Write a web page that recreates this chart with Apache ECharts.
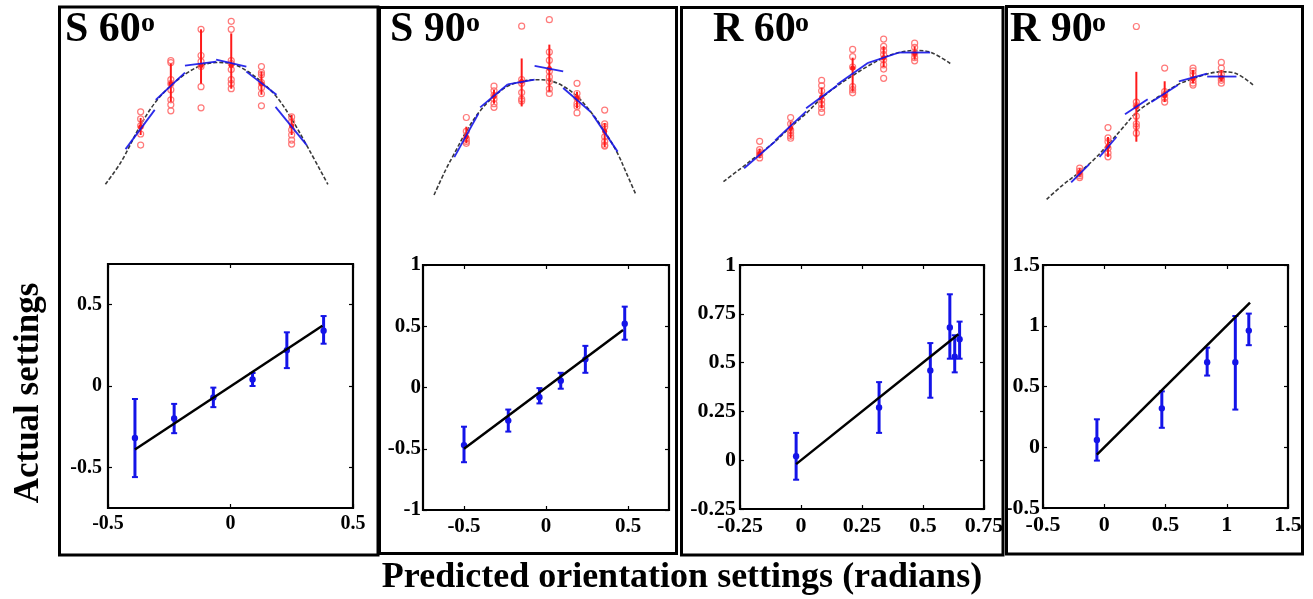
<!DOCTYPE html>
<html><head><meta charset="utf-8">
<script src="https://cdn.jsdelivr.net/npm/echarts@6/dist/echarts.min.js"></script>
<style>html,body{margin:0;padding:0;background:#fff}#c{width:1313px;height:599px}</style>
</head><body><div id="c"></div>
<script>
// ================= DATA =================
// Top row: orientation settings (deg) and responses (arbitrary units)
const settingsDeg = [-75, -45, -15, 15, 45, 75];

const s60Curve = [[-110,-1],[-94,22],[-75,58],[-60,81],[-45,97],[-30,109],[-15,117],[0,120],[15,119],[30,112],[45,101],[60,86],[75,64],[92,34],[111,-1]];
const s60Circles = [[71,64,57,49,38],[122,120,103,99,93,83,78,72],[153,127,121,116,96,75],[161,153,122,119,113,103,99,94],[116,110,108,100,95,89,77],[66,61,53,48,43,39]];
const s60BarMean = [56, 99, 117, 117, 99, 57];
const s60BarLow  = [48, 81, 99, 94, 88, 48];
const s60BarHigh = [65, 119, 153, 149, 111, 68];
const s60Tangents = [[-90,34,-61,73],[-60,83,-31,110],[-31,117,0,121],[0,123,30,116],[30,111,60,88],[59,76,90,38]];

const s90Curve = [[-110,0],[-98,26],[-88,45],[-75,69],[-61,90],[-45,107],[-30,118],[-15,123],[0,125],[15,124],[30,118],[45,107],[60,90],[75,69],[89,45],[98,25],[109,0]];
const s90Circles = [[84,69,61,58,56],[118,113,108,104,99,95],[183,125,121,111,104,102],[190,155,146,134,128,123,115,110],[121,110,105,99,96,89],[92,77,74,63,58,54,53]];
const s90BarMean = [63, 107, 123, 137, 105, 69];
const s90BarLow  = [56, 99, 96, 112, 94, 52];
const s90BarHigh = [74, 114, 148, 163, 112, 78];
const s90Tangents = [[-88,41,-62,88],[-60,95,-30,120],[-30,120,-1,125],[-1,140,30,134],[30,116,60,90],[62,87,89,47]];

const r60Curve = [[-110,0],[-93,13],[-75,27],[-60,39],[-45,53],[-30,66],[-15,81],[-1,92],[14,102],[30,112],[45,120],[60,125],[75,127],[91,125],[110,114]];
const r60Circles = [[39,31,28,26,23],[62,56,50,47,44,42],[98,93,88,79,75,71,67],[128,121,111,92,89,86],[138,131,127,123,118,113,109,100],[134,130,124,120,117]];
const r60BarMean = [27, 52, 82, 110, 120, 124];
const r60BarLow  = [23, 42, 71, 87, 111, 118];
const r60BarHigh = [32, 58, 91, 120, 131, 131];
const r60Tangents = [[-90,13,-60,39],[-60,40,-30,68],[-30,71,0,93],[0,94,30,115],[30,115,60,125],[60,125,90,125]];

const r90Curve = [[-110,0],[-93,15],[-75,29],[-60,42],[-45,58],[-30,75],[-15,92],[0,103],[15,113],[30,122],[46,128],[61,133],[75,135],[91,133],[110,120]];
const r90Circles = [[33,30,27,25,23],[76,65,61,54,49,45],[183,103,99,88,80,77,70],[139,114,111,107,103],[139,136,132,126,123,121],[145,139,132,128,126,123]];
const r90BarMean = [28, 56, 98, 110, 128, 129];
const r90BarLow  = [24, 45, 61, 103, 123, 125];
const r90BarHigh = [33, 66, 135, 125, 137, 137];
const r90Tangents = [[-84,18,-65,37],[-54,45,-36,66],[-27,90,-3,106],[1,103,29,121],[30,125,60,133],[60,130,91,130]];

// Bottom row: predicted vs actual settings (radians)
const s60Pred = [-0.39, -0.23, -0.07, 0.09, 0.23, 0.38];
const s60Mean = [-0.32, -0.20, -0.07, 0.04, 0.22, 0.34];
const s60Low  = [-0.56, -0.29, -0.13, 0.00, 0.11, 0.26];
const s60High = [-0.08, -0.11, -0.01, 0.08, 0.33, 0.43];
const s60Fit  = [[-0.39, -0.39], [0.375, 0.37]];

const s90Pred = [-0.50, -0.23, -0.04, 0.09, 0.24, 0.48];
const s90Mean = [-0.47, -0.27, -0.08, 0.055, 0.23, 0.52];
const s90Low  = [-0.61, -0.36, -0.13, -0.01, 0.12, 0.39];
const s90High = [-0.32, -0.18, -0.005, 0.12, 0.34, 0.66];
const s90Fit  = [[-0.50, -0.50], [0.47, 0.47]];

const r60Pred = [-0.02, 0.32, 0.53, 0.61, 0.63, 0.65];
const r60Mean = [0.02, 0.27, 0.46, 0.68, 0.53, 0.62];
const r60Low  = [-0.10, 0.14, 0.32, 0.52, 0.45, 0.52];
const r60High = [0.14, 0.40, 0.60, 0.85, 0.64, 0.71];
const r60Fit  = [[-0.02, -0.02], [0.645, 0.645]];

const r90Pred = [-0.06, 0.47, 0.84, 1.07, 1.18];
const r90Mean = [0.06, 0.32, 0.70, 0.70, 0.96];
const r90Low  = [-0.11, 0.16, 0.59, 0.31, 0.84];
const r90High = [0.23, 0.46, 0.82, 1.08, 1.10];
const r90Fit  = [[-0.06, -0.06], [1.19, 1.19]];

// Tick labels
const s60XTicks = [-0.5, 0, 0.5];
const s60YTicks = [-0.5, 0, 0.5];
const s90XTicks = [-0.5, 0, 0.5];
const s90YTicks = [-1, -0.5, 0, 0.5, 1];
const r60XTicks = [-0.25, 0, 0.25, 0.5, 0.75];
const r60YTicks = [-0.25, 0, 0.25, 0.5, 0.75, 1];
const r90XTicks = [-0.5, 0, 0.5, 1, 1.5];
const r90YTicks = [-0.5, 0, 0.5, 1, 1.5];

const panelTitles = ['S 60', 'S 90', 'R 60', 'R 90'];
const yTitle = 'Actual settings';
const xTitle = 'Predicted orientation settings (radians)';

// ================= LAYOUT / STYLE =================
const FONT = '"Liberation Serif", "DejaVu Serif", serif';
const BLUE = '#1414e8';
const RED = '#ff1a1a';
const CIRC = '#ff6a6a';

const topGrids = [
  {left: 58, top: 8, width: 320, height: 232, x: [-157.1, 160.8], y: [-56.3, 174.2]},
  {left: 380, top: 8, width: 297, height: 232, x: [-168.6, 153.4], y: [-48.8, 202.7]},
  {left: 681, top: 8, width: 322, height: 232, x: [-151.1, 160.5], y: [-56.5, 168.1]},
  {left: 1006, top: 8, width: 296, height: 232, x: [-153.0, 160.4], y: [-43.1, 202.6]}
];
const botGrids = [
  {left: 108, top: 264, width: 245, height: 244, x: [-0.5, 0.5], y: [-0.75, 0.75], xt: s60XTicks, yt: s60YTicks, ym: 6, fs: 20},
  {left: 423, top: 265, width: 246, height: 245, x: [-0.75, 0.75], y: [-1, 1], xt: s90XTicks, yt: s90YTicks, ym: 2, fs: 21},
  {left: 740, top: 265, width: 244, height: 244, x: [-0.25, 0.75], y: [-0.25, 1], xt: r60XTicks, yt: r60YTicks, ym: 4, fs: 22},
  {left: 1043, top: 265, width: 245, height: 243, x: [-0.5, 1.5], y: [-0.5, 1.5], xt: r90XTicks, yt: r90YTicks, ym: 3, fs: 22}
];
const topData = [
  {curve: s60Curve, circles: s60Circles, mean: s60BarMean, low: s60BarLow, high: s60BarHigh, tan: s60Tangents},
  {curve: s90Curve, circles: s90Circles, mean: s90BarMean, low: s90BarLow, high: s90BarHigh, tan: s90Tangents},
  {curve: r60Curve, circles: r60Circles, mean: r60BarMean, low: r60BarLow, high: r60BarHigh, tan: r60Tangents},
  {curve: r90Curve, circles: r90Circles, mean: r90BarMean, low: r90BarLow, high: r90BarHigh, tan: r90Tangents}
];
const botData = [
  {pred: s60Pred, mean: s60Mean, low: s60Low, high: s60High, fit: s60Fit},
  {pred: s90Pred, mean: s90Mean, low: s90Low, high: s90High, fit: s90Fit},
  {pred: r60Pred, mean: r60Mean, low: r60Low, high: r60High, fit: r60Fit},
  {pred: r90Pred, mean: r90Mean, low: r90Low, high: r90High, fit: r90Fit}
];

const grid = [], xAxis = [], yAxis = [], series = [];

topGrids.forEach((g, i) => {
  grid.push({left: g.left, top: g.top, width: g.width, height: g.height, show: false});
  xAxis.push({type: 'value', gridIndex: i, min: g.x[0], max: g.x[1], show: false});
  yAxis.push({type: 'value', gridIndex: i, min: g.y[0], max: g.y[1], show: false});
});
const tickStyle = (vals) => ({show: true, inside: true, length: 4, customValues: vals, lineStyle: {color: '#000', width: 1.2}});
botGrids.forEach((g, k) => {
  const gi = 4 + k;
  grid.push({left: g.left, top: g.top, width: g.width, height: g.height, show: true,
    borderColor: '#000', borderWidth: 2.2, backgroundColor: '#fff'});
  const lbl = {color: '#000', fontFamily: FONT, fontWeight: 'bold', fontSize: g.fs};
  xAxis.push({type: 'value', gridIndex: gi, min: g.x[0], max: g.x[1], position: 'bottom',
    axisLine: {show: false, onZero: false}, splitLine: {show: false},
    axisTick: tickStyle(g.xt),
    axisLabel: Object.assign({customValues: g.xt, margin: 6, showMinLabel: true, showMaxLabel: true, hideOverlap: false}, lbl)});
  yAxis.push({type: 'value', gridIndex: gi, min: g.y[0], max: g.y[1], position: 'left',
    axisLine: {show: false, onZero: false}, splitLine: {show: false},
    axisTick: tickStyle(g.yt),
    axisLabel: Object.assign({customValues: g.yt, margin: g.ym, showMinLabel: true, showMaxLabel: true, hideOverlap: false}, lbl)});
});
// mirror axes (top / right ticks)
botGrids.forEach((g, k) => {
  const gi = 4 + k;
  xAxis.push({type: 'value', gridIndex: gi, min: g.x[0], max: g.x[1], position: 'top',
    axisLine: {show: false, onZero: false}, splitLine: {show: false}, axisLabel: {show: false},
    axisTick: tickStyle(g.xt)});
  yAxis.push({type: 'value', gridIndex: gi, min: g.y[0], max: g.y[1], position: 'right',
    axisLine: {show: false, onZero: false}, splitLine: {show: false}, axisLabel: {show: false},
    axisTick: tickStyle(g.yt)});
});

// ---- top series ----
topData.forEach((d, i) => {
  series.push({type: 'line', xAxisIndex: i, yAxisIndex: i, data: d.curve, smooth: 0.35,
    symbol: 'none', z: 2, silent: true,
    lineStyle: {color: '#3a3a3a', width: 1.6, type: [4, 2]}});
  const circ = [];
  d.circles.forEach((ys, j) => ys.forEach(y => circ.push([settingsDeg[j], y])));
  series.push({type: 'scatter', xAxisIndex: i, yAxisIndex: i, data: circ, symbol: 'circle', symbolSize: 6, z: 3,
    itemStyle: {color: 'rgba(0,0,0,0)', borderColor: CIRC, borderWidth: 1.2, opacity: 0.9}});
  const bars = settingsDeg.map((x, j) => [x, d.low[j], d.high[j], d.mean[j]]);
  series.push({type: 'custom', xAxisIndex: i, yAxisIndex: i, data: bars, z: 4,
    encode: {x: 0, y: [1, 2]},
    renderItem: (p, api) => {
      const x = api.value(0);
      const a = api.coord([x, api.value(1)]), b = api.coord([x, api.value(2)]), m = api.coord([x, api.value(3)]);
      return {type: 'group', children: [
        {type: 'line', shape: {x1: a[0], y1: a[1], x2: b[0], y2: b[1]}, style: {stroke: RED, lineWidth: 2}},
        {type: 'circle', shape: {cx: m[0], cy: m[1], r: 2.5}, style: {fill: RED}}
      ]};
    }});
  series.push({type: 'custom', xAxisIndex: i, yAxisIndex: i, data: d.tan, z: 5,
    encode: {x: [0, 2], y: [1, 3]},
    renderItem: (p, api) => {
      const a = api.coord([api.value(0), api.value(1)]), b = api.coord([api.value(2), api.value(3)]);
      return {type: 'line', shape: {x1: a[0], y1: a[1], x2: b[0], y2: b[1]}, style: {stroke: BLUE, lineWidth: 1.8, opacity: 0.9}};
    }});
});

// ---- bottom series ----
botData.forEach((d, k) => {
  const ai = 4 + k;
  const bars = d.pred.map((x, j) => [x, d.low[j], d.high[j], d.mean[j]]);
  series.push({type: 'custom', xAxisIndex: ai, yAxisIndex: ai, data: bars, z: 3,
    encode: {x: 0, y: [1, 2]},
    renderItem: (p, api) => {
      const x = api.value(0);
      const a = api.coord([x, api.value(1)]), b = api.coord([x, api.value(2)]), m = api.coord([x, api.value(3)]);
      return {type: 'group', children: [
        {type: 'line', shape: {x1: a[0], y1: a[1], x2: b[0], y2: b[1]}, style: {stroke: BLUE, lineWidth: 3}},
        {type: 'line', shape: {x1: a[0] - 3, y1: a[1], x2: a[0] + 3, y2: a[1]}, style: {stroke: BLUE, lineWidth: 2}},
        {type: 'line', shape: {x1: b[0] - 3, y1: b[1], x2: b[0] + 3, y2: b[1]}, style: {stroke: BLUE, lineWidth: 2}},
        {type: 'circle', shape: {cx: m[0], cy: m[1], r: 3.2}, style: {fill: BLUE}}
      ]};
    }});
  series.push({type: 'line', xAxisIndex: ai, yAxisIndex: ai, data: d.fit, symbol: 'none', z: 4,
    lineStyle: {color: '#000', width: 2.5}});
});

// ---- frames and texts ----
const frames = [
  [59.5, 7, 318.5, 548], [379.5, 7.5, 297, 546], [681.5, 7.5, 321.5, 547.5], [1006.5, 6.5, 296, 547.5]
];
const titlePos = [[65, 141], [390, 466], [713, 795], [1010, 1092]];
const graphic = [];
frames.forEach(f => graphic.push({type: 'rect', shape: {x: f[0], y: f[1], width: f[2], height: f[3]},
  style: {fill: 'none', stroke: '#000', lineWidth: 3}, z: 100}));
panelTitles.forEach((t, i) => {
  graphic.push({type: 'text', x: titlePos[i][0], y: 30.5, z: 101,
    style: {text: t, font: 'bold 42px ' + FONT, fill: '#000', verticalAlign: 'middle', align: 'left'}});
  graphic.push({type: 'text', x: titlePos[i][1], y: 23.5, z: 101,
    style: {text: 'o', font: 'bold 28px ' + FONT, fill: '#000', verticalAlign: 'middle', align: 'left'}});
});
graphic.push({type: 'text', x: 29, y: 393, rotation: Math.PI / 2, z: 101,
  style: {text: yTitle, font: 'bold 35px ' + FONT, fill: '#000', align: 'center', verticalAlign: 'middle'}});
graphic.push({type: 'text', x: 682, y: 578, z: 101,
  style: {text: xTitle, font: 'bold 36px ' + FONT, fill: '#000', align: 'center', verticalAlign: 'middle'}});

const chart = echarts.init(document.getElementById('c'), null, {renderer: 'canvas'});
chart.setOption({animation: false, backgroundColor: '#fff', grid, xAxis, yAxis, series, graphic});
</script>
</body></html>
